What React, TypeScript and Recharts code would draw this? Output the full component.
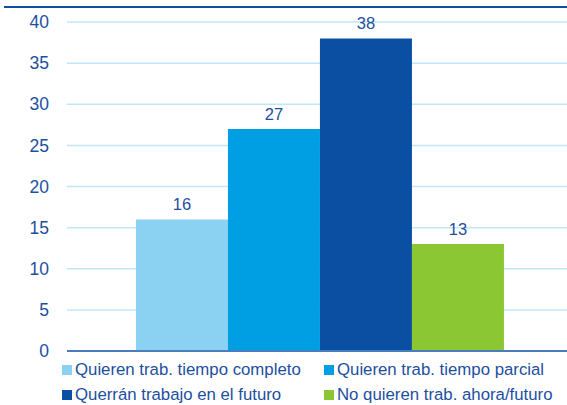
import React from "react";
import { Bar, BarChart, CartesianGrid, LabelList, ReferenceLine, XAxis, YAxis } from "recharts";

const SERIES_NAMES = [
  "Quieren trab. tiempo completo",
  "Quieren trab. tiempo parcial",
  "Querrán trabajo en el futuro",
  "No quieren trab. ahora/futuro",
];
const SERIES_VALUES = [16, 27, 38, 13];
const SERIES_COLORS = ["#8AD1F2", "#009FE3", "#0B4FA3", "#8BC633"];
const Y_TICKS = [0, 5, 10, 15, 20, 25, 30, 35, 40];

const TEXT = "#1D4F9F";
const FONT = "'Liberation Sans', Arial, sans-serif";

const data = [
  SERIES_VALUES.reduce<Record<string, number | string>>(
    (row, value, i) => ({ ...row, [`s${i}`]: value }),
    { name: "" },
  ),
];

function LegendBox() {
  return (
    <div
      style={{
        position: "absolute",
        left: 62,
        top: 360,
        display: "grid",
        gridTemplateColumns: "262px 240px",
        rowGap: 5,
        fontFamily: FONT,
        fontSize: 16.8,
        color: TEXT,
      }}
    >
      {SERIES_NAMES.map((name, i) => (
        <div key={name} style={{ display: "flex", alignItems: "center", height: 20, whiteSpace: "nowrap" }}>
          <span
            style={{
              width: 10,
              height: 10,
              background: SERIES_COLORS[i],
              marginRight: 3,
              display: "inline-block",
            }}
          />
          {name}
        </div>
      ))}
    </div>
  );
}

export default function App() {
  return (
    <div style={{ position: "fixed", left: 0, top: 0, width: 567, height: 405, overflow: "hidden", background: "#fff" }}>
      <div style={{ position: "absolute", left: 4, right: 0, top: 6, height: 2, background: "#0B4FA3" }} />
      <BarChart
        width={580}
        height={405}
        data={data}
        margin={{ top: 22, right: 6, left: 0, bottom: 54 }}
        barCategoryGap="13.6%"
        barGap={0}
        style={{ fontFamily: FONT }}
      >
        <CartesianGrid vertical={false} stroke="#BFE7F8" strokeWidth={1.5} />
        <XAxis dataKey="name" hide />
        <YAxis
          domain={[0, 40]}
          ticks={Y_TICKS}
          width={67}
          axisLine={false}
          tickLine={false}
          tickSize={0}
          tickMargin={18}
          tick={{ fontSize: 17.5, fill: TEXT }}
        />
        {SERIES_VALUES.map((_, i) => (
          <Bar key={i} dataKey={`s${i}`} fill={SERIES_COLORS[i]} isAnimationActive={false}>
            <LabelList dataKey={`s${i}`} position="top" offset={9} fill={TEXT} fontSize={16.5} />
          </Bar>
        ))}
        <ReferenceLine y={0} stroke="#4A7CC0" strokeWidth={2} />
      </BarChart>
      <LegendBox />
    </div>
  );
}
